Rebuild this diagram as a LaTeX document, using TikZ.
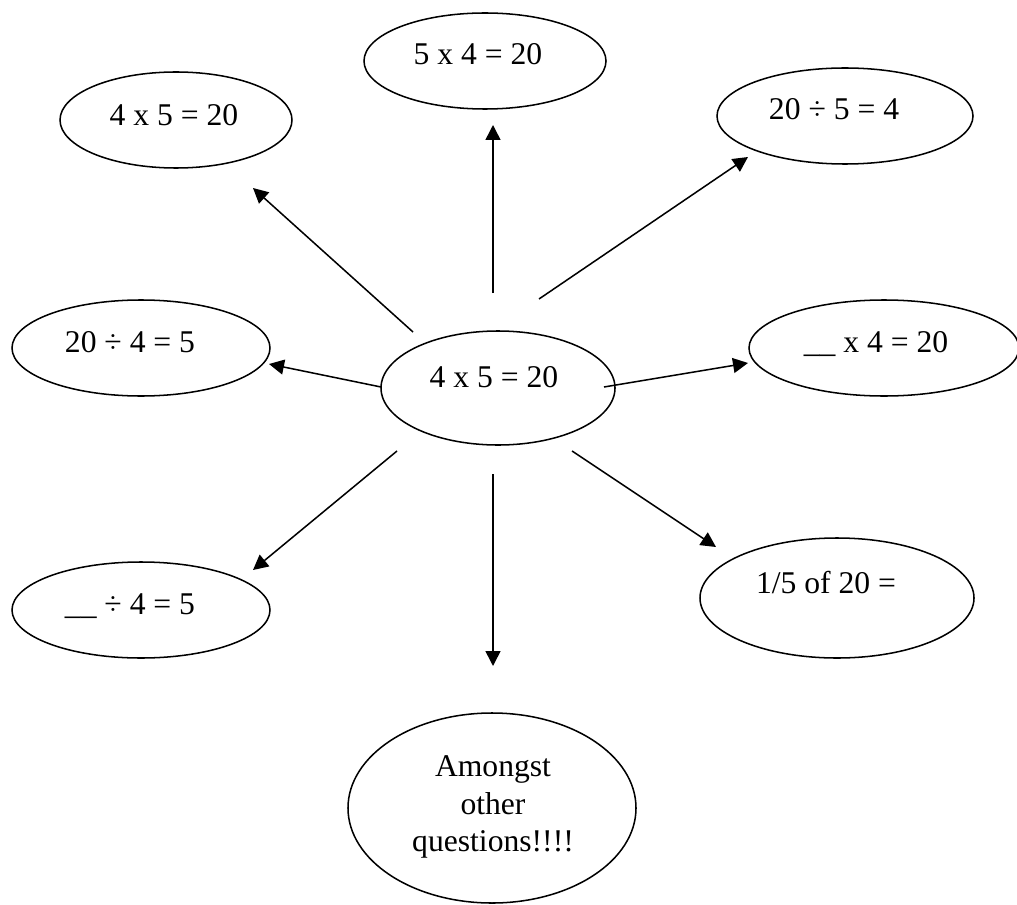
\documentclass[tikz,border=0pt]{standalone}
\usepackage{fontspec}
\setmainfont{Liberation Serif}
\usetikzlibrary{arrows.meta,shapes.geometric}

\begin{document}
\begin{tikzpicture}[x=0.03cm, y=-0.03cm,
  every node/.style={font=\fontsize{27}{32}\selectfont},
  bubble/.style={draw, ellipse, line width=1.3pt, inner sep=0pt, minimum height=2.88cm},
  sum/.style={anchor=base},
  link/.style={line width=1.3pt, -{Triangle[length=0.45cm, width=0.45cm]}}]
  \useasboundingbox (0,0) rectangle (1017,904);

  % Bubbles
  \node[bubble, minimum width=6.96cm] (tl) at (176,120) {};
  \node[bubble, minimum width=7.26cm] (top) at (485,61) {};
  \node[bubble, minimum width=7.68cm] (tr) at (845,116) {};
  \node[bubble, minimum width=7.74cm] (ml) at (141,348) {};
  \node[bubble, minimum width=7.02cm, minimum height=3.42cm] (ctr) at (498,388) {};
  \node[bubble, minimum width=8.1cm] (mr) at (884,348) {};
  \node[bubble, minimum width=7.74cm] (bl) at (141,610) {};
  \node[bubble, minimum width=8.22cm, minimum height=3.6cm] (br) at (837,598) {};
  \node[bubble, minimum width=8.64cm, minimum height=5.7cm] (bot) at (492,808) {};

  % Texts
  \node[sum] (tltext) at (174,126) {4 x 5 = 20};
  \node[sum] (toptext) at (478,65) {5 x 4 = 20};
  \node[sum] (trtext) at (834,120) {20 ÷ 5 = 4};
  \node[sum] (mltext) at (130,352) {20 ÷ 4 = 5};
  \node[sum] (ctrtext) at (494,387) {4 x 5 = 20};
  \node[sum] (mrtext) at (876,352) {\_\_ x 4 = 20};
  \node[sum] (bltext) at (130,614) {\_\_ ÷ 4 = 5};
  \node[sum] (brtext) at (826,593) {1/5 of 20 =};
  \node[align=center] (bottext) at (493,807) {Amongst\\other\\questions!!!!};

  % Arrow ends
  \coordinate (up0) at (493,293);   \coordinate (up1) at (493,125);
  \coordinate (ul0) at (413,332);   \coordinate (ul1) at (253,188);
  \coordinate (ur0) at (539,299);   \coordinate (ur1) at (748,157);
  \coordinate (lf0) at (381,387);   \coordinate (lf1) at (269,364);
  \coordinate (rt0) at (604,387);   \coordinate (rt1) at (748,363);
  \coordinate (dl0) at (397,451);   \coordinate (dl1) at (253,570);
  \coordinate (dn0) at (493,474);   \coordinate (dn1) at (493,666);
  \coordinate (dr0) at (572,451);   \coordinate (dr1) at (716,547);

  % Arrows
  \foreach \a in {up,ul,ur,lf,rt,dl,dn,dr}
    \draw[link] (\a0) -- (\a1);
\end{tikzpicture}
\end{document}
